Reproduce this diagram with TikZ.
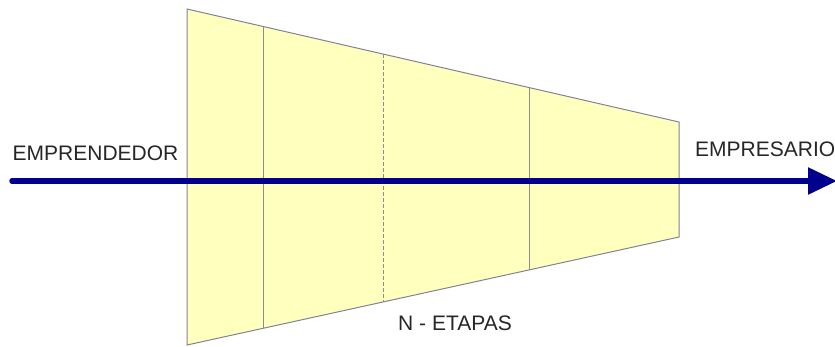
\documentclass[tikz,border=0pt]{standalone}
\usepackage{fontspec}
\setmainfont{Liberation Sans}
\usetikzlibrary{arrows.meta}
\definecolor{fillY}{RGB}{255,255,190}
\definecolor{edgeC}{RGB}{130,130,150}
\definecolor{divC}{RGB}{140,140,140}
\definecolor{arrC}{RGB}{0,0,140}
\tikzset{
  lbl/.style={font=\fontsize{21}{24}\selectfont, inner sep=0pt, anchor=base west, text=black!85},
  divider/.style={draw=divC, line width=1pt},
  flow/.style={draw=arrC, line width=5.5pt, line cap=round, -{Triangle[length=29pt,width=26pt]}}
}
\begin{document}
\begin{tikzpicture}[x=1pt,y=-1pt]
\useasboundingbox (0,0) rectangle (835,346);
% trapezoid
\coordinate (tl) at (187,9);
\coordinate (bl) at (187,345);
\coordinate (tr) at (679,122);
\coordinate (br) at (679,237);
\path[fill=fillY, draw=edgeC, line width=1pt] (tl) -- (tr) -- (br) -- (bl) -- cycle;
% dividers
\coordinate (d1t) at (263,26.5);
\coordinate (d1b) at (263,328.3);
\coordinate (d2t) at (383,54);
\coordinate (d2b) at (383,302);
\coordinate (d3t) at (529,87.5);
\coordinate (d3b) at (529,270);
\draw[divider] (d1t) -- (d1b);
\draw[divider, dashed, dash pattern=on 4pt off 2pt] (d2t) -- (d2b);
\draw[divider] (d3t) -- (d3b);
% arrow
\coordinate (as) at (12,181);
\coordinate (ae) at (837,181);
\draw[flow] (as) -- (ae);
% labels
\node[lbl] (emp) at (12.5,160) {EMPRENDEDOR};
\node[lbl] (empr) at (695,156) {EMPRESARIO};
\node[lbl] (etapas) at (398,330) {N - ETAPAS};
\end{tikzpicture}
\end{document}
